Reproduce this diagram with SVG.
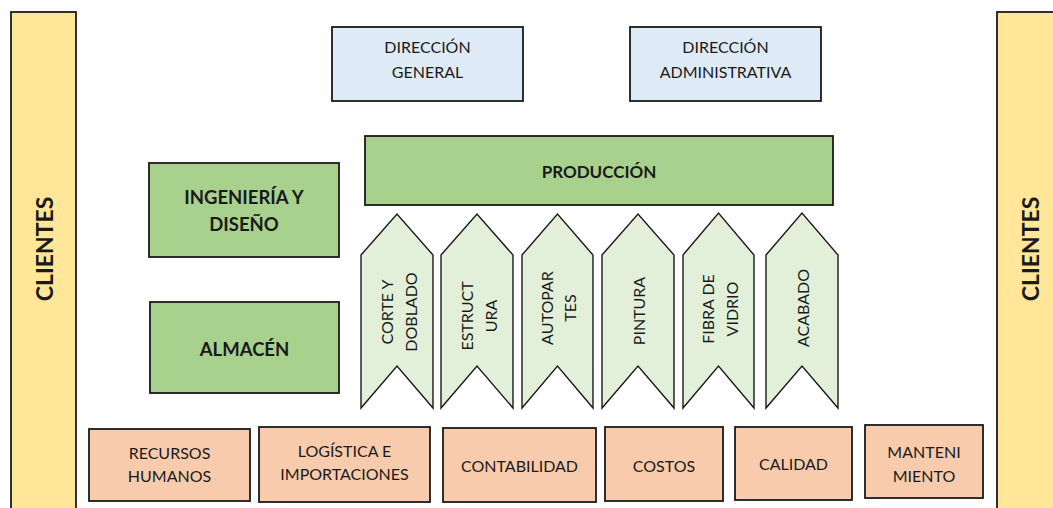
<svg xmlns="http://www.w3.org/2000/svg" width="1053" height="508" viewBox="0 0 1053 508">
<style>
.box{stroke:#1a1a1a;stroke-width:1.8}
.cli{fill:#FFE699}
.blue{fill:#DEEBF7}
.green{fill:#A9D18E}
.chev{fill:#E2F0D9;stroke:#1a1a1a;stroke-width:1.4;stroke-linejoin:miter}
.orange{fill:#F8CBAD}
text{font-family:Lato,"Open Sans","Liberation Sans",sans-serif;fill:#1a1a1a;text-anchor:middle;dominant-baseline:central;font-size:16px}
.b{font-weight:bold;font-size:17px}
.bl{font-weight:bold;font-size:18.5px}
.cl{font-weight:bold;font-size:23px}
</style>
<rect width="1053" height="508" fill="#ffffff"/>
<g id="clientes-left"><rect class="box cli" x="11" y="12" width="65" height="500"/><text class="cl" transform="translate(44,249) rotate(-90)">CLIENTES</text></g>
<g id="clientes-right"><rect class="box cli" x="997" y="12" width="65" height="500"/><text class="cl" transform="translate(1030,249) rotate(-90)">CLIENTES</text></g>
<g id="direccion-general"><rect class="box blue" x="332" y="27" width="191" height="74"/><text x="427.5" y="46">DIRECCIÓN</text><text x="427.5" y="71">GENERAL</text></g>
<g id="direccion-administrativa"><rect class="box blue" x="630" y="27" width="191" height="74"/><text x="725.5" y="46">DIRECCIÓN</text><text x="725.5" y="71">ADMINISTRATIVA</text></g>
<g id="produccion"><rect class="box green" x="365" y="136" width="468" height="69"/><text class="b" x="599" y="171">PRODUCCIÓN</text></g>
<g id="ingenieria"><rect class="box green" x="149" y="163" width="190" height="94"/><text class="bl" x="244" y="197">INGENIERÍA Y</text><text class="bl" x="244" y="224">DISEÑO</text></g>
<g id="almacen"><rect class="box green" x="150" y="302" width="189" height="91"/><text class="bl" x="244.5" y="349">ALMACÉN</text></g>
<g id="corte"><path class="chev" d="M361,255 L397,214 L433,255 L433,408 L397,366 L361,408 Z"/><text transform="translate(386,312) rotate(-90)">CORTE Y</text><text transform="translate(410,312) rotate(-90)">DOBLADO</text></g>
<g id="estructura"><path class="chev" d="M441,255 L477,214 L513,255 L513,408 L477,366 L441,408 Z"/><text transform="translate(466,316) rotate(-90)">ESTRUCT</text><text transform="translate(490,316) rotate(-90)">URA</text></g>
<g id="autopartes"><path class="chev" d="M522,255 L557.5,214 L593,255 L593,408 L557.5,366 L522,408 Z"/><text transform="translate(546,308) rotate(-90)">AUTOPAR</text><text transform="translate(569,308) rotate(-90)">TES</text></g>
<g id="pintura"><path class="chev" d="M602,255 L638,214 L674,255 L674,408 L638,366 L602,408 Z"/><text transform="translate(638,311) rotate(-90)">PINTURA</text></g>
<g id="fibra"><path class="chev" d="M683,255 L718.5,213 L754,255 L754,408 L718.5,366 L683,408 Z"/><text transform="translate(707,309) rotate(-90)">FIBRA DE</text><text transform="translate(731,309) rotate(-90)">VIDRIO</text></g>
<g id="acabado"><path class="chev" d="M766,255 L802,213 L838,255 L838,408 L802,366 L766,408 Z"/><text transform="translate(802,308) rotate(-90)">ACABADO</text></g>
<g id="recursos"><rect class="box orange" x="89" y="429" width="161" height="72"/><text x="169.5" y="452">RECURSOS</text><text x="169.5" y="475">HUMANOS</text></g>
<g id="logistica"><rect class="box orange" x="259" y="427" width="171" height="75"/><text x="344.5" y="450">LOGÍSTICA E</text><text x="344.5" y="473">IMPORTACIONES</text></g>
<g id="contabilidad"><rect class="box orange" x="443" y="428" width="153" height="74"/><text x="519.5" y="465">CONTABILIDAD</text></g>
<g id="costos"><rect class="box orange" x="605" y="427" width="118" height="74"/><text x="664" y="465">COSTOS</text></g>
<g id="calidad"><rect class="box orange" x="735" y="427" width="117" height="73"/><text x="793.5" y="463">CALIDAD</text></g>
<g id="mantenimiento"><rect class="box orange" x="865" y="425" width="118" height="73"/><text x="924" y="451">MANTENI</text><text x="924" y="475">MIENTO</text></g>
<g id="connectors"></g>
</svg>
